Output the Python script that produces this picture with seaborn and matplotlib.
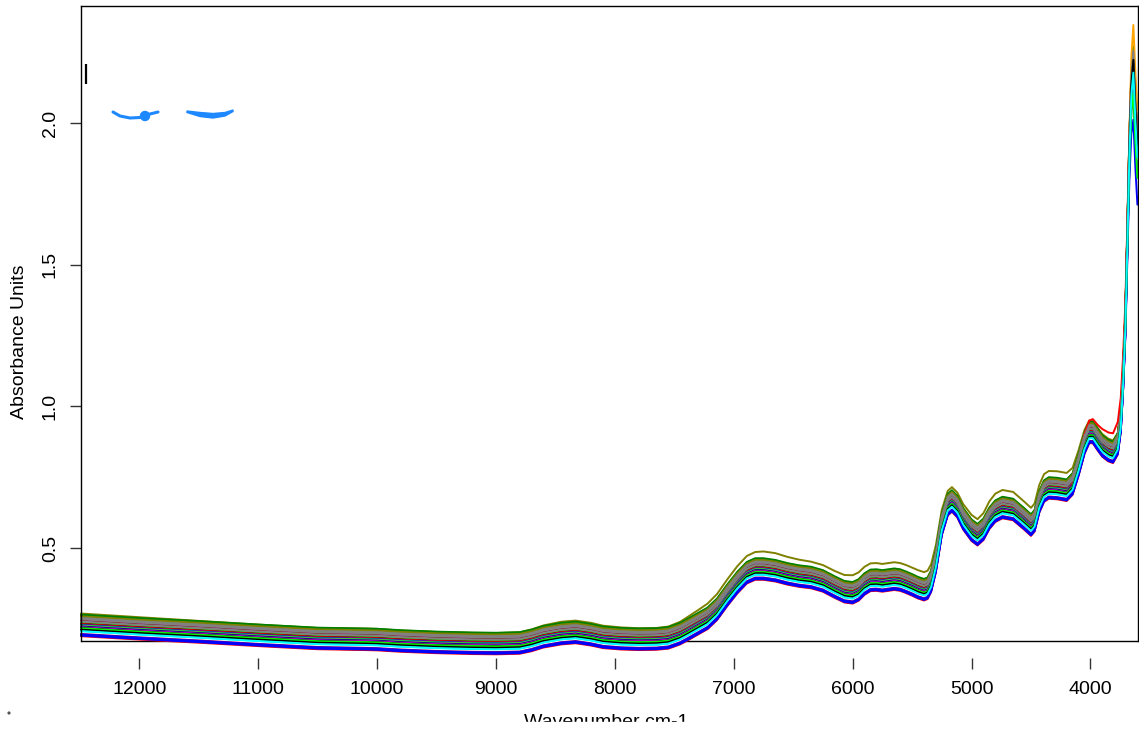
import matplotlib
matplotlib.use("Agg")
import matplotlib.pyplot as plt
import numpy as np
import pandas as pd
import seaborn as sns
from matplotlib.patches import Rectangle, Polygon, Circle

# ---- spectral data -------------------------------------------------------
wavenumber = [12490, 12000, 11500, 11000, 10500, 10100, 10000, 9800, 9500, 9200,
              9000, 8800, 8700, 8600, 8450, 8330, 8200, 8100, 7950, 7800,
              7650, 7550, 7450, 7380, 7300, 7220, 7140, 7055, 6970, 6890,
              6820, 6750, 6650, 6550, 6450, 6350, 6250, 6150, 6070, 6000,
              5950, 5900, 5850, 5800, 5750, 5700, 5650, 5600, 5550, 5500,
              5450, 5400, 5370, 5340, 5300, 5250, 5200, 5165, 5120, 5070,
              5000, 4950, 4900, 4850, 4800, 4740, 4650, 4560, 4500, 4470,
              4430, 4390, 4350, 4280, 4200, 4150, 4100, 4050, 4010, 3980,
              3940, 3900, 3850, 3810, 3770, 3745, 3725, 3706, 3689, 3673,
              3656, 3639, 3622, 3605]

# mean spectrum of the sample set
mean_absorbance = [0.229, 0.217, 0.206, 0.194, 0.183, 0.180, 0.179, 0.174, 0.169, 0.166,
                   0.165, 0.167, 0.176, 0.189, 0.200, 0.204, 0.196, 0.187, 0.182, 0.180,
                   0.181, 0.185, 0.200, 0.216, 0.235, 0.254, 0.286, 0.335, 0.380, 0.415,
                   0.428, 0.428, 0.422, 0.411, 0.403, 0.398, 0.386, 0.364, 0.348, 0.344,
                   0.354, 0.375, 0.388, 0.389, 0.386, 0.389, 0.392, 0.389, 0.381, 0.372,
                   0.362, 0.355, 0.360, 0.385, 0.455, 0.585, 0.655, 0.668, 0.648, 0.605,
                   0.565, 0.549, 0.568, 0.607, 0.632, 0.645, 0.638, 0.606, 0.583, 0.598,
                   0.665, 0.703, 0.714, 0.712, 0.706, 0.728, 0.795, 0.872, 0.910, 0.910,
                   0.885, 0.862, 0.846, 0.840, 0.870, 0.950, 1.100, 1.300, 1.600, 1.900,
                   2.120, 2.200, 2.030, 1.900]

# weight of the O-H band edge in each sample's peak deviation
peak_profile = [0.0] * 87 + [0.1, 0.2, 0.45, 0.8, 1.0, 1.0, 1.0]

# deviation of the two atypical samples from the mean spectrum
olive_sample_shift = [0.040, 0.039, 0.037, 0.036, 0.035, 0.036, 0.036, 0.035, 0.035, 0.035,
                      0.035, 0.036, 0.037, 0.038, 0.040, 0.040, 0.040, 0.039, 0.038, 0.037,
                      0.037, 0.038, 0.040, 0.043, 0.046, 0.050, 0.052, 0.054, 0.056, 0.057,
                      0.058, 0.060, 0.060, 0.058, 0.056, 0.054, 0.054, 0.055, 0.057, 0.060,
                      0.060, 0.059, 0.058, 0.058, 0.058, 0.058, 0.058, 0.058, 0.059, 0.059,
                      0.060, 0.060, 0.060, 0.058, 0.055, 0.050, 0.047, 0.047, 0.048, 0.050,
                      0.052, 0.053, 0.055, 0.058, 0.060, 0.060, 0.060, 0.059, 0.059, 0.059,
                      0.058, 0.058, 0.058, 0.059, 0.059, 0.055, 0.050, 0.045, 0.040, 0.040,
                      0.040, 0.040, 0.040, 0.040, 0.035, 0.030, 0.020, 0.010, 0.005, 0.000,
                      0.000, -0.020, 0.000, 0.000]
red_sample_shift = [-0.030, -0.032, -0.034, -0.036, -0.038, -0.038, -0.038, -0.036, -0.035, -0.034,
                    -0.034, -0.034, -0.033, -0.032, -0.032, -0.032, -0.032, -0.032, -0.032, -0.032,
                    -0.032, -0.032, -0.030, -0.030, -0.030, -0.030, -0.030, -0.030, -0.030, -0.030,
                    -0.030, -0.030, -0.030, -0.030, -0.030, -0.030, -0.030, -0.030, -0.030, -0.030,
                    -0.030, -0.030, -0.030, -0.030, -0.030, -0.030, -0.030, -0.030, -0.030, -0.030,
                    -0.030, -0.030, -0.030, -0.030, -0.030, -0.030, -0.028, -0.028, -0.028, -0.028,
                    -0.028, -0.028, -0.028, -0.028, -0.028, -0.028, -0.028, -0.028, -0.028, -0.028,
                    -0.026, -0.024, -0.020, -0.015, -0.010, 0.000, 0.015, 0.030, 0.040, 0.045,
                    0.050, 0.058, 0.062, 0.065, 0.075, 0.080, 0.080, 0.070, 0.060, 0.050,
                    0.050, 0.050, 0.060, 0.060]

# regular samples in drawing order: baseline offset, colour, band-edge deviation
sample_offsets = [0.034, 0.036, 0.030, 0.032, 0.026, 0.028, 0.030, 0.022, 0.020, 0.018,
                  0.016, 0.014, 0.020, 0.010, 0.008, 0.006, 0.004, 0.002, 0.000, -0.002,
                  -0.004, -0.006, -0.009, -0.011, -0.012, -0.015, -0.020, -0.024, -0.026, -0.029,
                  -0.032, -0.040, -0.034, -0.036, -0.038, 0.024, 0.012, -0.014, -0.017, -0.022]
sample_colors = ["#808000", "#008000", "#008000", "#008000", "#008000", "#808080", "#808000", "#008000",
                 "#008000", "#008080", "#FF00FF", "#800000", "#808080", "#000080", "#808080", "#00FF00",
                 "#800000", "#FF0000", "#0000FF", "#00FF00", "#808080", "#000080", "#FF00FF", "#000000",
                 "#00FF00", "#808080", "#00FF00", "#FFA500", "#00FFFF", "#FFFFFF", "#800080", "#FF0000",
                 "#0000FF", "#0000FF", "#0000FF", "#808080", "#808080", "#00FF00", "#000000", "#00FFFF"]
sample_peak_dev = [0.00, -0.05, -0.03, 0.00, -0.01, 0.02, 0.02, -0.02, 0.05, -0.04,
                   -0.02, 0.01, 0.01, 0.00, 0.01, -0.02, 0.00, 0.05, 0.04, -0.03,
                   -0.01, 0.02, 0.00, 0.00, 0.00, 0.00, -0.02, 0.17, -0.05, 0.00,
                   -0.06, 0.02, 0.05, 0.03, -0.15, 0.03, 0.00, -0.08, 0.04, 0.00]

x_ticks = [12000, 11000, 10000, 9000, 8000, 7000, 6000, 5000, 4000]
y_ticks = [0.5, 1.0, 1.5, 2.0]
y_tick_labels = ["0.5", "1.0", "1.5", "2.0"]

# ---- long-form table -----------------------------------------------------
wn = np.array(wavenumber, dtype=float)
mean = np.array(mean_absorbance)
prof = np.array(peak_profile)
frames, palette, order = [], {}, []

def add_sample(name, values, colour):
    frames.append(pd.DataFrame({"wavenumber": wn, "absorbance": values, "sample": name}))
    palette[name] = colour
    order.append(name)

add_sample("S00", mean + np.array(olive_sample_shift), "#808000")
for i, (off, col, dev) in enumerate(zip(sample_offsets, sample_colors, sample_peak_dev)):
    add_sample(f"S{i + 1:02d}", mean + off + dev * prof, col)
    if i == 20:
        add_sample("S99", mean + np.array(red_sample_shift), "#FF0000")

df = pd.concat(frames, ignore_index=True)

# ---- figure --------------------------------------------------------------
sns.set_style("ticks")
plt.rcParams["font.family"] = ["Liberation Sans", "DejaVu Sans"]

W, H = 1139, 732
fig = plt.figure(figsize=(W / 100, H / 100), dpi=100)
ax = fig.add_axes([81 / W, 91 / H, 1057 / W, 635 / H])

# lower edge of the plot frame (the x axis itself sits below it)
ax.plot([0, 1], [0, 0], transform=ax.transAxes, color="black", lw=1.0,
        clip_on=False, zorder=1)

sns.lineplot(data=df, x="wavenumber", y="absorbance", hue="sample",
             hue_order=order, palette=palette, estimator=None, sort=False,
             legend=False, linewidth=1.4, ax=ax, zorder=2)
for ln in ax.lines[1:]:
    ln.set_clip_on(False)

ax.set_xlim(12490, 3600)
ax.set_ylim(0.172, 2.413)
ax.set_xticks(x_ticks)
ax.set_xticklabels([str(t) for t in x_ticks])
ax.set_yticks(y_ticks)
ax.set_yticklabels(y_tick_labels)

for side in ("left", "top", "right"):
    ax.spines[side].set_color("black")
    ax.spines[side].set_linewidth(1.0)
ax.spines["bottom"].set_position(("outward", 12.2))
ax.spines["bottom"].set_color("none")

ax.tick_params(axis="x", bottom=True, direction="out", length=7.9, width=1.0,
               color="#333333", pad=9, labelsize=14, labelcolor="black")
ax.tick_params(axis="y", left=True, direction="out", length=7.9, width=1.0,
               color="#333333", pad=8, labelsize=14, labelcolor="black",
               labelrotation=90)
for lab in ax.get_yticklabels():
    lab.set_va("center")

ax.set_xlabel("")
ax.set_ylabel("Absorbance Units", fontsize=14, color="black")
ax.yaxis.label.set_va("center")
ax.yaxis.set_label_coords((20 - 81) / 1057, (641 - 342) / 635)

# ---- page overlay: axis title and stray marks ----------------------------
ov = fig.add_axes([0, 0, 1, 1], zorder=5)
ov.set_xlim(0, W)
ov.set_ylim(H, 0)
ov.axis("off")
ov.patch.set_alpha(0)

ov.text(606, 727, "Wavenumber cm-1", ha="center", va="baseline",
        fontsize=14, color="black", zorder=1)
ov.add_patch(Rectangle((0, 722), W, 12, color="white", zorder=2))

ov.plot([86, 86], [64, 84], color="black", lw=1.6, solid_capstyle="butt")
ov.plot([113, 120, 130, 140, 150, 158], [112, 116, 118, 117.5, 114, 112],
        color="#1E88FF", lw=2.2, solid_capstyle="round")
ov.add_patch(Circle((145, 116), 4.5, color="#1E88FF"))
ov.add_patch(Polygon([(187, 111), (200, 112.5), (213, 113.5), (225, 112.5), (233, 110),
                      (233, 111.5), (225, 116), (213, 118), (200, 116.5), (187, 112.5)],
                     closed=True, color="#1E88FF"))
ov.add_patch(Circle((9, 713), 0.9, color="#555555"))

fig.savefig("out.png", dpi=100)
